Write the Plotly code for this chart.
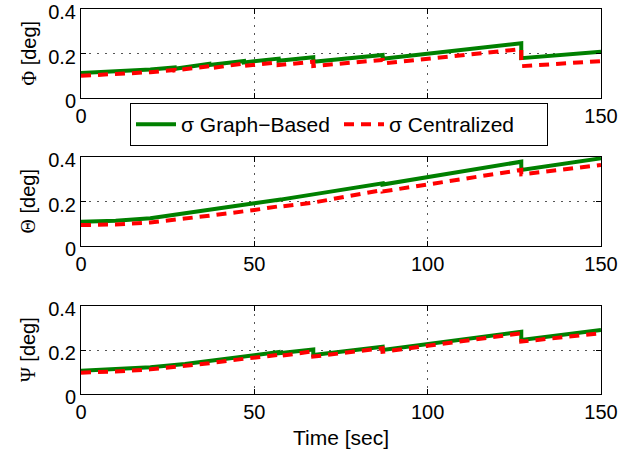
import plotly.graph_objects as go

# ---------------- data ----------------
t_phi = [0, 10, 20, 27, 27, 37, 37, 47, 47, 57, 57, 67, 67, 87, 87, 127, 127, 150]
phi_graph = [0.112, 0.118, 0.128, 0.137, 0.131, 0.154, 0.148, 0.166, 0.160, 0.177, 0.167,
             0.183, 0.163, 0.193, 0.176, 0.246, 0.179, 0.208]
phi_central = [0.100, 0.106, 0.116, 0.126, 0.124, 0.143, 0.133, 0.155, 0.144, 0.160, 0.148,
               0.163, 0.144, 0.171, 0.155, 0.220, 0.143, 0.166]

t_theta = [0, 10, 20, 27, 27, 37, 50, 57, 57, 67, 77, 87, 87, 127, 127, 150]
theta_graph = [0.109, 0.114, 0.125, 0.140, 0.139, 0.160, 0.192, 0.208, 0.207, 0.232, 0.257,
               0.282, 0.276, 0.379, 0.342, 0.394]
theta_central = [0.094, 0.097, 0.106, 0.118, 0.116, 0.136, 0.162, 0.178, 0.176, 0.195, 0.222,
                 0.252, 0.245, 0.342, 0.322, 0.364]

t_psi = [0, 10, 20, 30, 37, 47, 57, 57, 67, 67, 87, 87, 127, 127, 150]
psi_graph = [0.106, 0.112, 0.122, 0.136, 0.150, 0.170, 0.191, 0.185, 0.202, 0.177, 0.215,
             0.200, 0.283, 0.245, 0.291]
psi_central = [0.097, 0.102, 0.112, 0.127, 0.140, 0.160, 0.178, 0.172, 0.194, 0.170, 0.208,
               0.192, 0.276, 0.238, 0.276]

x_ticks = [0, 50, 100, 150]
y_ticks = [0, 0.2, 0.4]
y_tick_text = ["0", "0.2", "0.4"]
y_labels = ["Φ", "Θ", "Ψ"]
series_names = ["σ Graph\u2212Based", "σ Centralized"]

# ---------------- figure ----------------
W, H = 632, 453
fig = go.Figure()

panels = [(t_phi, phi_graph, phi_central), (t_theta, theta_graph, theta_central),
          (t_psi, psi_graph, psi_central)]
boxes = [(9, 98), (157, 246), (306, 394)]
x0, x1 = 81, 601
green = "#008000"
red = "#FF0000"
font_main = "Liberation Sans, Arial, sans-serif"

for i, (t, g, c) in enumerate(panels):
    xa = "x" if i == 0 else f"x{i+1}"
    ya = "y" if i == 0 else f"y{i+1}"
    fig.add_trace(go.Scatter(x=t, y=g, mode="lines", name=series_names[0],
                             line=dict(color=green, width=4),
                             xaxis=xa, yaxis=ya, showlegend=(i == 0)))
    fig.add_trace(go.Scatter(x=t, y=c, mode="lines", name=series_names[1],
                             line=dict(color=red, width=4, dash="10px,7px"),
                             xaxis=xa, yaxis=ya, showlegend=(i == 0)))

layout = dict(
    width=W, height=H,
    margin=dict(l=0, r=0, t=0, b=0),
    paper_bgcolor="white", plot_bgcolor="white",
    font=dict(family=font_main, size=20, color="black"),
    legend=dict(x=130 / W, y=1 - 103 / H, xanchor="left", yanchor="top",
                orientation="h", bgcolor="white", bordercolor="black", borderwidth=1,
                font=dict(size=21), entrywidth=153, tracegroupgap=0,
                itemwidth=40),
    annotations=[],
)

axis_common = dict(showline=True, linecolor="black", linewidth=1, mirror="ticks",
                   ticks="inside", ticklen=5, tickcolor="black", zeroline=False,
                   showgrid=True, gridcolor="#555", gridwidth=1, griddash="2px,6px",
                   automargin=False, ticklabeloverflow="allow",
                   tickfont=dict(size=20, family=font_main))

for i, (top, bot) in enumerate(boxes):
    xk = "xaxis" if i == 0 else f"xaxis{i+1}"
    yk = "yaxis" if i == 0 else f"yaxis{i+1}"
    anchor_x = "y" if i == 0 else f"y{i+1}"
    anchor_y = "x" if i == 0 else f"x{i+1}"
    if i == 0:
        # the 50 and 100 labels are hidden behind the legend in the reference
        xt = [str(v) if v in (0, 150) else "" for v in x_ticks]
    else:
        xt = [str(v) for v in x_ticks]
    layout[xk] = dict(axis_common, domain=[x0 / W, x1 / W], range=[0, 150],
                      tickvals=x_ticks, ticktext=xt, anchor=anchor_x)
    layout[yk] = dict(axis_common, domain=[1 - bot / H, 1 - top / H], range=[0, 0.4],
                      tickvals=y_ticks, ticktext=y_tick_text, anchor=anchor_y,
                      ticklabelshift=3)
    layout["annotations"].append(dict(
        x=28 / W, y=1 - ((top + bot) / 2) / H, xref="paper", yref="paper",
        text=f'<span style="font-family:Liberation Serif">{y_labels[i]}</span> [deg]',
        textangle=-90, showarrow=False, font=dict(size=20, family=font_main),
        xanchor="center", yanchor="middle"))

layout["annotations"].append(dict(
    x=((x0 + x1) / 2) / W, y=1 - 437 / H, xref="paper", yref="paper",
    text="Time [sec]", showarrow=False, font=dict(size=21, family=font_main),
    xanchor="center", yanchor="middle"))

fig.update_layout(**layout)
fig.write_html("out.html")
